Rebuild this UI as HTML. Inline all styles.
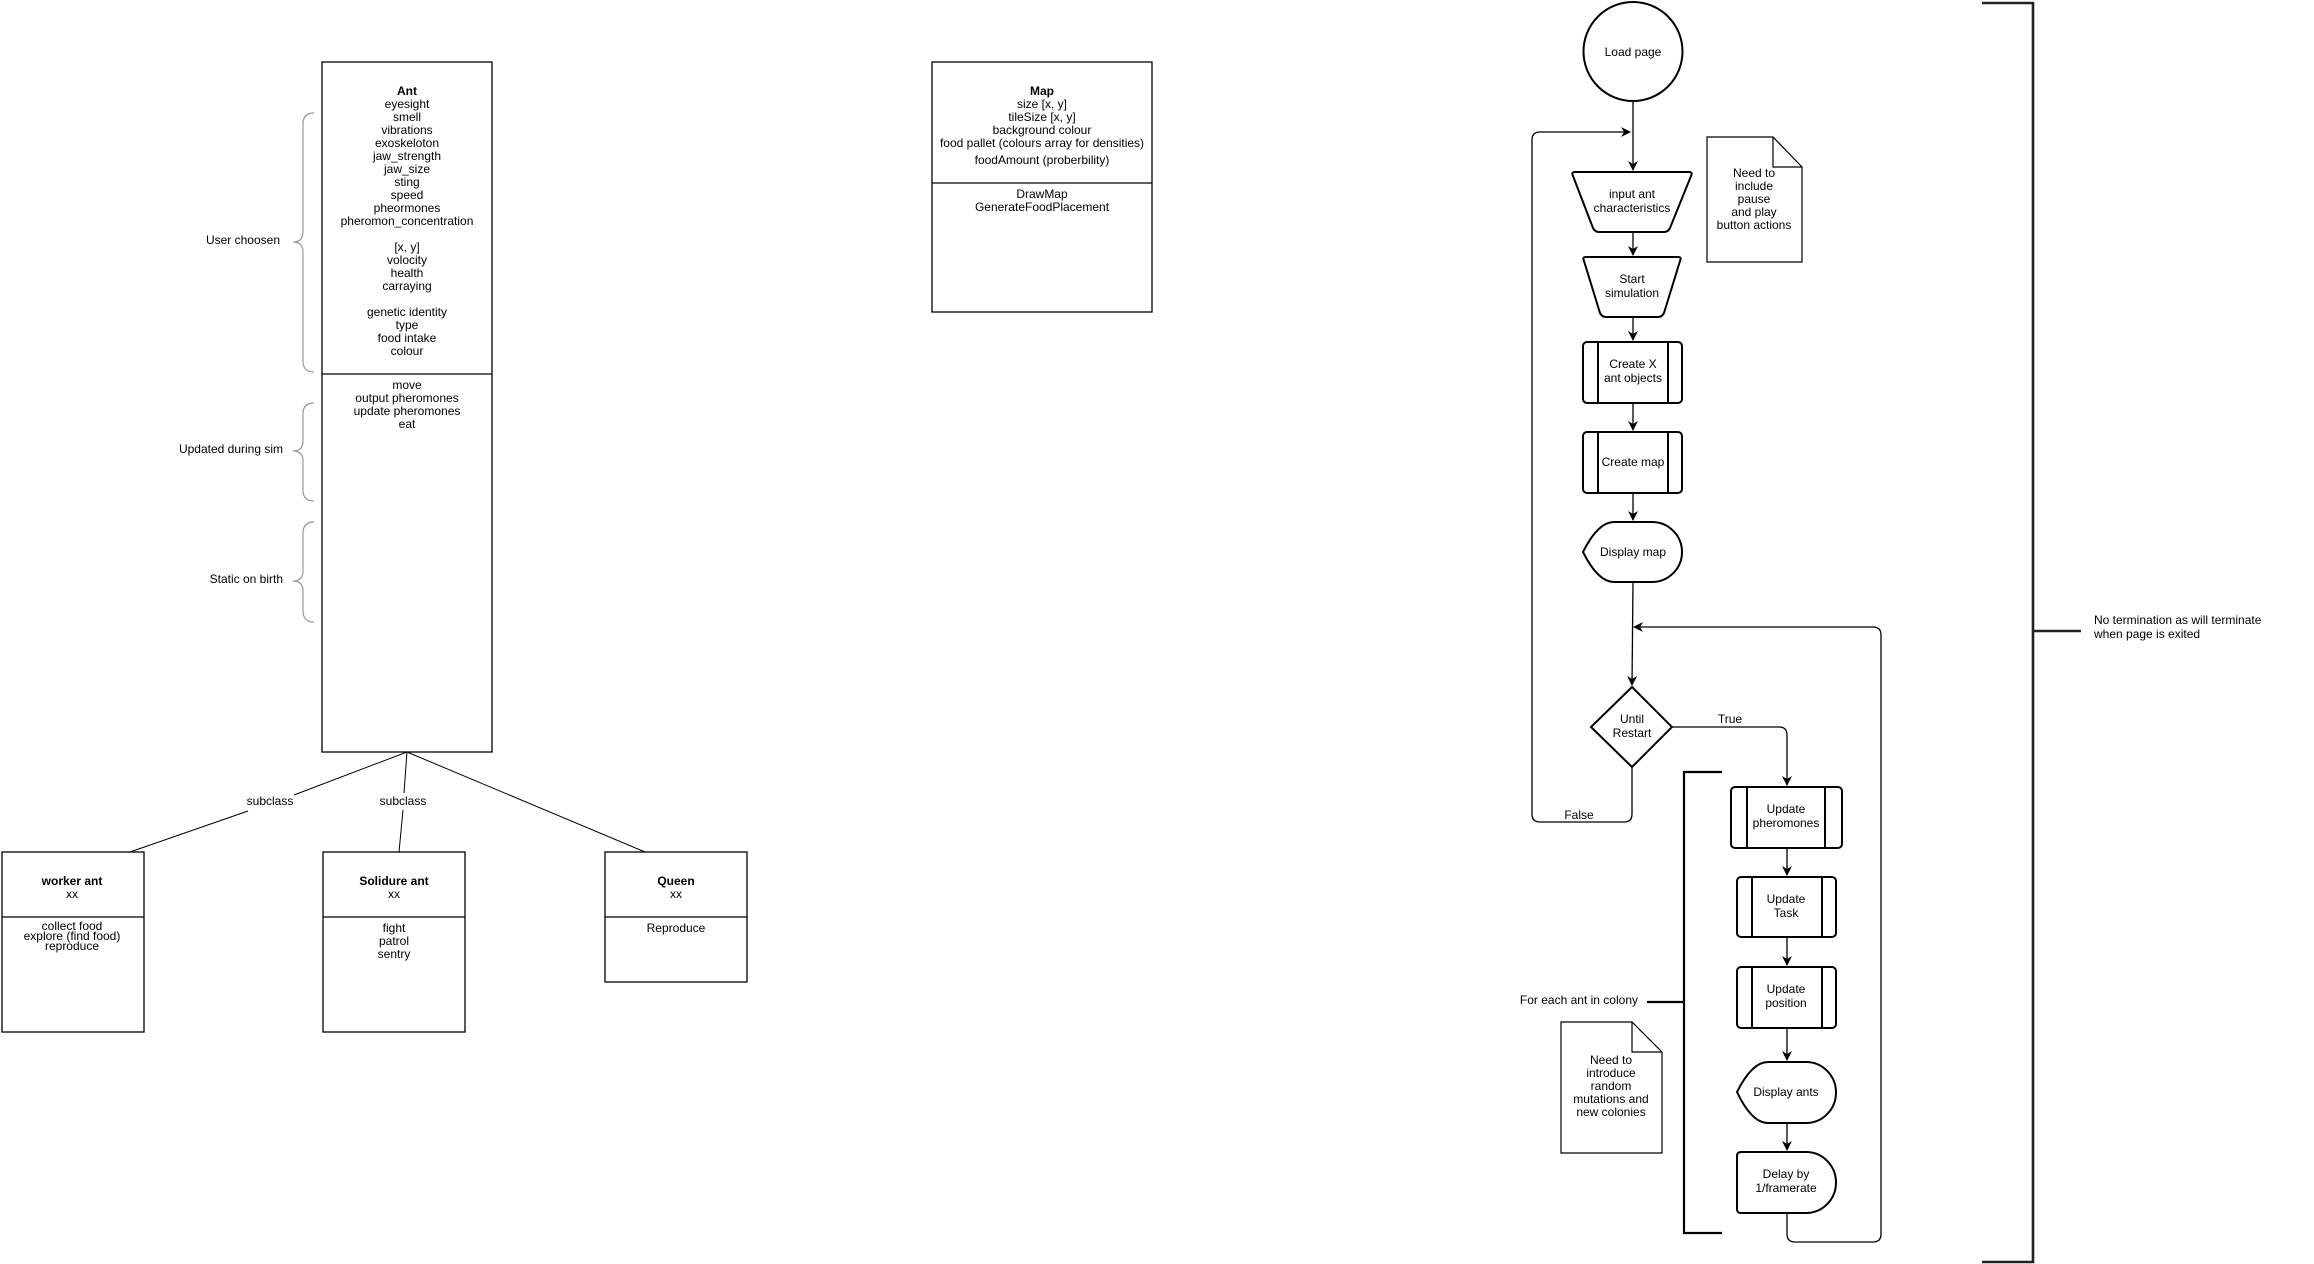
<!DOCTYPE html>
<html><head><meta charset="utf-8"><style>
html,body{margin:0;padding:0;background:#fff;}
svg{display:block;}
text{font-family:"Liberation Sans",Arial,sans-serif;font-size:12px;fill:#000;}
</style></head><body>
<svg width="2314" height="1264" viewBox="0 0 2314 1264" xmlns="http://www.w3.org/2000/svg">
<defs>
<marker id="ar" markerWidth="10" markerHeight="10" refX="9" refY="5" orient="auto" markerUnits="userSpaceOnUse">
<path d="M0,0 L10,5 L0,10 L3,5 z" fill="#000"/>
</marker>
</defs>

<g fill="none" stroke="#000" stroke-width="1.3">
<rect x="322" y="62" width="170" height="690"/>
<line x1="322" y1="374" x2="492" y2="374"/>
<rect x="932" y="62" width="220" height="250"/>
<line x1="932" y1="183" x2="1152" y2="183"/>
<rect x="2" y="852" width="142" height="180"/>
<line x1="2" y1="917" x2="144" y2="917"/>
<rect x="323" y="852" width="142" height="180"/>
<line x1="323" y1="917" x2="465" y2="917"/>
<rect x="605" y="852" width="142" height="130"/>
<line x1="605" y1="917" x2="747" y2="917"/>
</g>
<g stroke="#000" stroke-width="1">
<line x1="407" y1="752" x2="294" y2="795"/>
<line x1="248" y1="811" x2="130" y2="852"/>
<line x1="407" y1="752" x2="404" y2="793"/>
<line x1="403" y1="810" x2="399" y2="852"/>
<line x1="407" y1="752" x2="645" y2="852"/>
</g>
<text x="270" y="805" text-anchor="middle" font-size="10.5">subclass</text>
<text x="403" y="805" text-anchor="middle" font-size="10.5">subclass</text>

<g text-anchor="middle">
<text x="407" y="95" font-weight="bold">Ant</text>
<text x="407" y="108">eyesight</text>
<text x="407" y="121">smell</text>
<text x="407" y="134">vibrations</text>
<text x="407" y="147">exoskeloton</text>
<text x="407" y="160">jaw_strength</text>
<text x="407" y="173">jaw_size</text>
<text x="407" y="186">sting</text>
<text x="407" y="199">speed</text>
<text x="407" y="212">pheormones</text>
<text x="407" y="225">pheromon_concentration</text>
<text x="407" y="251">[x, y]</text>
<text x="407" y="264">volocity</text>
<text x="407" y="277">health</text>
<text x="407" y="290">carraying</text>
<text x="407" y="316">genetic identity</text>
<text x="407" y="329">type</text>
<text x="407" y="342">food intake</text>
<text x="407" y="355">colour</text>
<text x="407" y="389">move</text>
<text x="407" y="402">output pheromones</text>
<text x="407" y="415">update pheromones</text>
<text x="407" y="428">eat</text>

<text x="1042" y="95" font-weight="bold">Map</text>
<text x="1042" y="108">size [x, y]</text>
<text x="1042" y="121">tileSize [x, y]</text>
<text x="1042" y="134">background colour</text>
<text x="1042" y="147">food pallet (colours array for densities)</text>
<text x="1042" y="164">foodAmount (proberbility)</text>
<text x="1042" y="198">DrawMap</text>
<text x="1042" y="211">GenerateFoodPlacement</text>

<text x="72" y="885" font-weight="bold">worker ant</text>
<text x="72" y="898">xx</text>
<text x="72" y="930" font-size="8">collect food</text>
<text x="72" y="940" font-size="8">explore (find food)</text>
<text x="72" y="950" font-size="8">reproduce</text>

<text x="394" y="885" font-weight="bold">Solidure ant</text>
<text x="394" y="898">xx</text>
<text x="394" y="932">fight</text>
<text x="394" y="945">patrol</text>
<text x="394" y="958">sentry</text>

<text x="676" y="885" font-weight="bold">Queen</text>
<text x="676" y="898">xx</text>
<text x="676" y="932">Reproduce</text>
</g>

<g fill="none" stroke="#999" stroke-width="1.2">
<path d="M314,113 Q303,113 303,124 L303,232 Q303,242 293,242 Q303,242 303,252 L303,361 Q303,372 314,372"/>
<path d="M314,403 Q303,403 303,414 L303,441 Q303,451 293,451 Q303,451 303,461 L303,490 Q303,501 314,501"/>
<path d="M314,522 Q303,522 303,533 L303,571 Q303,581 293,581 Q303,581 303,591 L303,611 Q303,622 314,622"/>
</g>
<g text-anchor="end">
<text x="280" y="244">User choosen</text>
<text x="283" y="453">Updated during sim</text>
<text x="283" y="583">Static on birth</text>
</g>

<g fill="none" stroke="#000" stroke-width="1.3">
<line x1="1633" y1="101" x2="1633" y2="170" marker-end="url(#ar)"/>
<path d="M1633,582 L1632,685" marker-end="url(#ar)"/>
<line x1="1633" y1="232" x2="1633" y2="255" marker-end="url(#ar)"/>
<line x1="1633" y1="318" x2="1633" y2="340" marker-end="url(#ar)"/>
<line x1="1633" y1="403" x2="1633" y2="430" marker-end="url(#ar)"/>
<line x1="1633" y1="493" x2="1633" y2="520" marker-end="url(#ar)"/>
<path d="M1632,767 L1632,814 Q1632,822 1624,822 L1540,822 Q1532,822 1532,814 L1532,140 Q1532,132 1540,132 L1630,132" marker-end="url(#ar)"/>
<path d="M1672,727 L1779,727 Q1787,727 1787,735 L1787,785" marker-end="url(#ar)"/>
<line x1="1787" y1="848" x2="1787" y2="875" marker-end="url(#ar)"/>
<line x1="1787" y1="937" x2="1787" y2="965" marker-end="url(#ar)"/>
<line x1="1787" y1="1028" x2="1787" y2="1060" marker-end="url(#ar)"/>
<line x1="1787" y1="1123" x2="1787" y2="1150" marker-end="url(#ar)"/>
<path d="M1787,1213 L1787,1234 Q1787,1242 1795,1242 L1873,1242 Q1881,1242 1881,1234 L1881,635 Q1881,627 1873,627 L1634,627" marker-end="url(#ar)"/>
</g>

<g fill="#fff" stroke="#000" stroke-width="2">
<circle cx="1633" cy="51.5" r="49.5"/>
<path d="M1575,172 L1689,172 Q1693,172 1691,176 L1670,228 Q1668,232 1664,232 L1599,232 Q1595,232 1593,228 L1573,176 Q1571,172 1575,172 Z"/>
<path d="M1586,257 L1678,257 Q1682,257 1680,261 L1664,313 Q1662,317 1658,317 L1606,317 Q1602,317 1600,313 L1584,261 Q1582,257 1586,257 Z"/>
<rect x="1583" y="342" width="99" height="61" rx="4"/>
<rect x="1583" y="432" width="99" height="61" rx="4"/>
<path d="M1583,552 C1592,534 1602,522 1614,522 L1652,522 A30,30 0 0 1 1652,582 L1614,582 C1602,582 1592,570 1583,552 Z"/>
<path d="M1632,687 L1672,727 L1632,767 L1591,727 Z"/>
<rect x="1731" y="787" width="111" height="61" rx="4"/>
<rect x="1737" y="877" width="99" height="60" rx="4"/>
<rect x="1737" y="967" width="99" height="61" rx="4"/>
<path d="M1737,1092 C1746,1074 1756,1062 1768,1062 L1806,1062 A30,30.5 0 0 1 1806,1123 L1768,1123 C1756,1123 1746,1111 1737,1092 Z"/>
<path d="M1741,1152 L1806,1152 A30,30.5 0 0 1 1806,1213 L1741,1213 Q1737,1213 1737,1209 L1737,1156 Q1737,1152 1741,1152 Z"/>
</g>
<g stroke="#000" stroke-width="2">
<line x1="1598" y1="342" x2="1598" y2="403"/><line x1="1668" y1="342" x2="1668" y2="403"/>
<line x1="1598" y1="432" x2="1598" y2="493"/><line x1="1668" y1="432" x2="1668" y2="493"/>
<line x1="1747" y1="787" x2="1747" y2="848"/><line x1="1825" y1="787" x2="1825" y2="848"/>
<line x1="1752" y1="877" x2="1752" y2="937"/><line x1="1822" y1="877" x2="1822" y2="937"/>
<line x1="1752" y1="967" x2="1752" y2="1028"/><line x1="1822" y1="967" x2="1822" y2="1028"/>
</g>

<g fill="#fff" stroke="#000" stroke-width="1.2">
<path d="M1707,137 L1773,137 L1802,167 L1802,262 L1707,262 Z"/>
<path d="M1773,137 L1773,167 L1802,167" fill="none"/>
<path d="M1561,1022 L1632,1022 L1662,1052 L1662,1153 L1561,1153 Z"/>
<path d="M1632,1022 L1632,1052 L1662,1052" fill="none"/>
</g>

<path d="M1722,772 L1684,772 L1684,1233 L1722,1233 M1684,1002 L1647,1002" fill="none" stroke="#000" stroke-width="2.2"/>
<path d="M1982,3 L2033,3 L2033,1262 L1982,1262 M2033,631 L2081,631" fill="none" stroke="#222" stroke-width="2.6"/>

<g text-anchor="middle">
<text x="1633" y="56">Load page</text>
<text x="1632" y="198">input ant</text>
<text x="1632" y="212">characteristics</text>
<text x="1632" y="283">Start</text>
<text x="1632" y="297">simulation</text>
<text x="1633" y="368">Create X</text>
<text x="1633" y="382">ant objects</text>
<text x="1633" y="466">Create map</text>
<text x="1633" y="556">Display map</text>
<text x="1632" y="723">Until</text>
<text x="1632" y="737">Restart</text>
<text x="1786" y="813">Update</text>
<text x="1786" y="827">pheromones</text>
<text x="1786" y="903">Update</text>
<text x="1786" y="917">Task</text>
<text x="1786" y="993">Update</text>
<text x="1786" y="1007">position</text>
<text x="1786" y="1096">Display ants</text>
<text x="1786" y="1178">Delay by</text>
<text x="1786" y="1192">1/framerate</text>
<text x="1730" y="723">True</text>
<text x="1579" y="819">False</text>
<text x="1754" y="177">Need to</text>
<text x="1754" y="190">include</text>
<text x="1754" y="203">pause</text>
<text x="1754" y="216">and play</text>
<text x="1754" y="229">button actions</text>
<text x="1611" y="1064">Need to</text>
<text x="1611" y="1077">introduce</text>
<text x="1611" y="1090">random</text>
<text x="1611" y="1103">mutations and</text>
<text x="1611" y="1116">new colonies</text>
</g>
<text x="1638" y="1004" text-anchor="end">For each ant in colony</text>
<text x="2094" y="624">No termination as will terminate</text>
<text x="2094" y="638">when page is exited</text>
</svg>
</body></html>
